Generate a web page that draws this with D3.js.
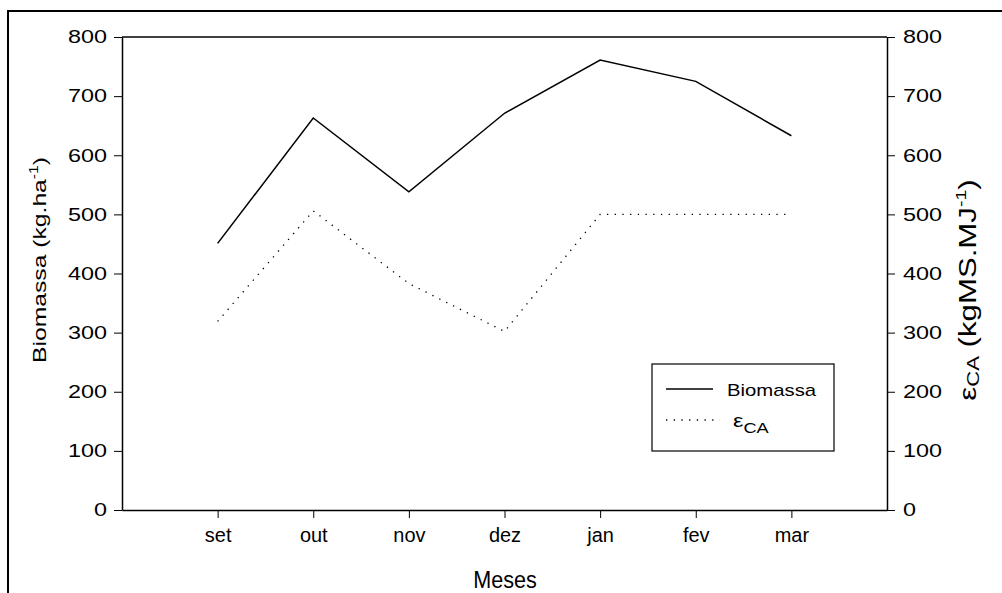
<!DOCTYPE html>
<html><head><meta charset="utf-8">
<script src="https://cdn.jsdelivr.net/npm/d3@7"></script>
<style>
body{margin:0;background:#fff;}
svg{display:block;}
text{font-family:"Liberation Sans",Arial,sans-serif;fill:#000;}
</style></head>
<body>
<svg id="c" width="1002" height="593"></svg>
<script>
const months = ["set","out","nov","dez","jan","fev","mar"];
const biomassa = [451, 663, 538, 671, 761, 725, 633];
const epsilonCA = [319, 506, 383, 302, 500, 500, 500];
const yTicks = [0,100,200,300,400,500,600,700,800];

const STRETCH = 1.3;
const svg = d3.select("#c");
const x = d3.scaleLinear().domain([0, 8]).range([122, 887]);
const y = d3.scaleLinear().domain([0, 800]).range([510, 37]);
const idx = months.map((m,i)=>i+1);

// outer border (top and left)
svg.append("line").attr("x1",8).attr("x2",1002).attr("y1",11).attr("y2",11).attr("stroke","#000").attr("stroke-width",2);
svg.append("line").attr("x1",8).attr("x2",8).attr("y1",10).attr("y2",593).attr("stroke","#000").attr("stroke-width",2);

// top frame
svg.append("line").attr("x1",x(0)).attr("x2",x(8)).attr("y1",y(800)).attr("y2",y(800)).attr("stroke","#000").attr("stroke-width",1.5);

const left = svg.append("g").attr("transform",`translate(${x(0)},0)`)
  .call(d3.axisLeft(y).tickValues(yTicks).tickSize(8).tickSizeOuter(0).tickPadding(7));
const right = svg.append("g").attr("transform",`translate(${x(8)},0)`)
  .call(d3.axisRight(y).tickValues(yTicks).tickSize(8).tickSizeOuter(0).tickPadding(8));
const bottom = svg.append("g").attr("transform",`translate(0,${y(0)})`)
  .call(d3.axisBottom(x).tickValues(idx).tickFormat(d=>months[d-1]).tickSize(8).tickSizeOuter(0).tickPadding(9));

[left,right,bottom].forEach(g=>{
  g.select(".domain").attr("stroke","#000").attr("stroke-width",1.5);
  g.selectAll(".tick line").attr("stroke","#000").attr("stroke-width",1);
  g.selectAll("text").attr("font-family","Liberation Sans, Arial, sans-serif").attr("font-size",18).attr("fill","#000");
});
[left,right].forEach(g=>g.selectAll(".tick text").each(function(){
  const t = d3.select(this); const tx = +t.attr("x");
  t.attr("x",0).attr("transform",`translate(${tx},0) scale(${STRETCH},1)`);
}));
bottom.selectAll(".tick text").attr("font-size",19).each(function(){
  const t = d3.select(this); const ty = +t.attr("y");
  t.attr("y",0).attr("transform",`translate(0,${ty}) scale(1.05,1.1)`);
});

// lines
const lineB = d3.line().x((d,i)=>x(i+1)).y(d=>y(d));
svg.append("path").datum(biomassa).attr("d",lineB).attr("fill","none").attr("stroke","#000").attr("stroke-width",1.5);
svg.append("path").datum(epsilonCA).attr("d",lineB).attr("fill","none").attr("stroke","#000").attr("stroke-width",1.3).attr("stroke-dasharray","1.3,6.4");

// axis titles
svg.append("text").attr("transform",`translate(46,260) rotate(-90) scale(${STRETCH},1)`).attr("text-anchor","middle")
  .attr("font-size",19).html('Biomassa (kg.ha<tspan dy="-8" font-size="12">-1</tspan><tspan dy="8">)</tspan>');
svg.append("text").attr("transform",`translate(976,290) rotate(-90) scale(${STRETCH},1)`).attr("text-anchor","middle")
  .attr("font-size",24).html('ε<tspan font-size="17" dy="3">CA</tspan><tspan dy="-3"> (kgMS.MJ</tspan><tspan dy="-10" font-size="15">-1</tspan><tspan dy="10">)</tspan>');
svg.append("text").attr("transform","translate(505,588) scale(0.9,1)").attr("text-anchor","middle")
  .attr("font-size",24).text("Meses");

// legend
const lg = svg.append("g");
lg.append("rect").attr("x",652).attr("y",364).attr("width",182).attr("height",87).attr("fill","#fff").attr("stroke","#000").attr("stroke-width",1.2);
lg.append("line").attr("x1",666).attr("x2",713).attr("y1",389).attr("y2",389).attr("stroke","#000").attr("stroke-width",1.5);
lg.append("text").attr("transform",`translate(727,396) scale(1.27,1)`).attr("font-size",16).text("Biomassa");
lg.append("line").attr("x1",666).attr("x2",720).attr("y1",420).attr("y2",420).attr("stroke","#000").attr("stroke-width",1.3).attr("stroke-dasharray","1.3,6.4");
lg.append("text").attr("transform",`translate(733,427) scale(${STRETCH},1)`).attr("font-size",18).html('ε<tspan font-size="14" dy="6">CA</tspan>');
</script>
</body></html>
